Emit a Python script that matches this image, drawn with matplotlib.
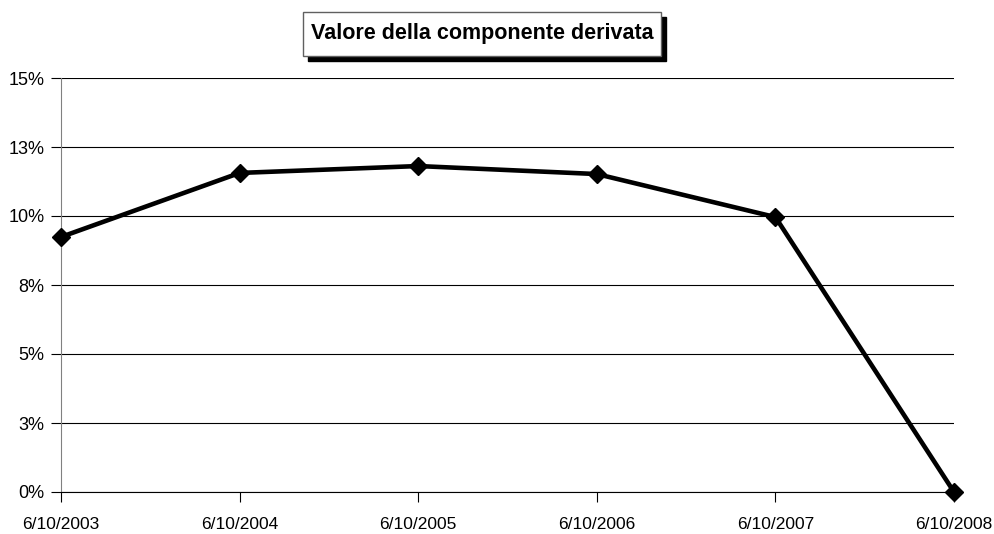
import matplotlib
matplotlib.use('Agg')
import matplotlib.pyplot as plt
from matplotlib.patches import Rectangle
from matplotlib.ticker import FuncFormatter

plt.rcParams['font.family'] = ['Liberation Sans', 'DejaVu Sans']

dates = ['6/10/2003', '6/10/2004', '6/10/2005', '6/10/2006', '6/10/2007', '6/10/2008']
valori = [9.24, 11.56, 11.81, 11.52, 9.96, 0.0]
title = 'Valore della componente derivata'

fig = plt.figure(figsize=(9.94, 5.34), dpi=100)
ax = fig.add_axes([61 / 994, 42 / 534, 893 / 994, 414 / 534])

x = list(range(len(dates)))
ax.plot(x, valori, color='black', lw=3.3, marker='D', markersize=9.5, zorder=3, clip_on=False)

ax.set_xlim(0, len(dates) - 1)
ax.set_ylim(0, 15)
ax.set_yticks([0, 2.5, 5, 7.5, 10, 12.5, 15])
ax.yaxis.set_major_formatter(FuncFormatter(lambda v, p: '%d%%' % int(v + 0.5)))
ax.set_xticks(x)
ax.set_xticklabels(dates)
ax.grid(axis='y', color='black', lw=0.8)
ax.set_axisbelow(True)

for s in ['top', 'right']:
    ax.spines[s].set_visible(False)
ax.spines['left'].set_color('#808080')
ax.spines['bottom'].set_color('black')
ax.tick_params(axis='y', length=7, width=0.8, color='black', labelsize=13, pad=5)
ax.tick_params(axis='x', length=7, width=0.8, color='black', labelsize=12.5, pad=11)

# boxed title with a drop shadow
bx, by, bw, bh = 303 / 994, 1 - 56 / 534, 358 / 994, 44 / 534
fig.patches.append(Rectangle((bx + 5 / 994, by - 5 / 534), bw, bh, transform=fig.transFigure,
                             facecolor='black', edgecolor='black', zorder=1))
fig.patches.append(Rectangle((bx, by), bw, bh, transform=fig.transFigure,
                             facecolor='white', edgecolor='#606060', lw=1, zorder=2))
fig.text(bx + bw / 2, by + bh / 2, title, ha='center', va='center',
         fontsize=15.5, fontweight='bold', zorder=3)

fig.savefig('out.png', dpi=100)
